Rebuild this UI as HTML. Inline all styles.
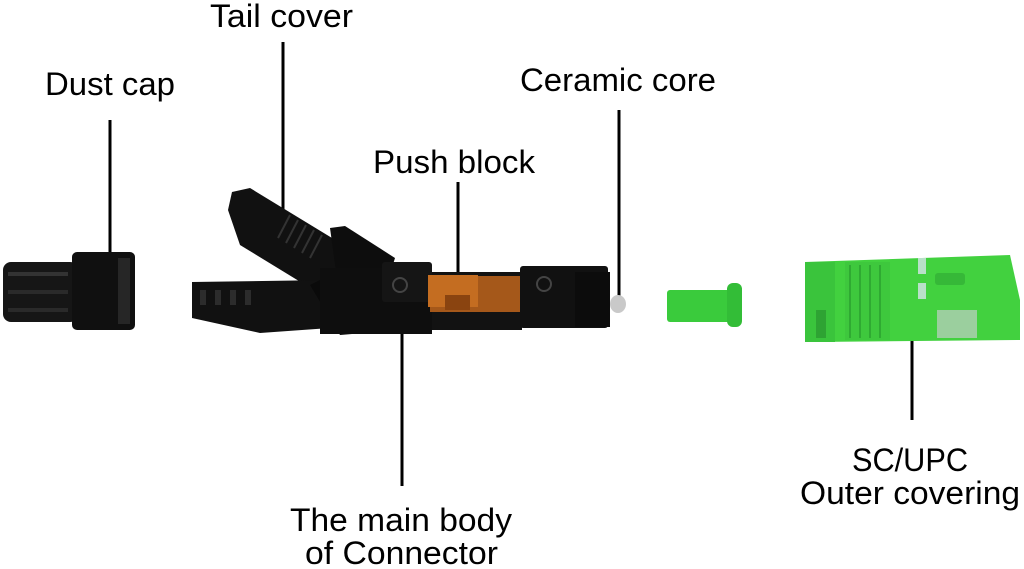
<!DOCTYPE html>
<html><head><meta charset="utf-8"><style>
html,body{margin:0;padding:0;background:#fff;}
svg{display:block;}
text{font-family:"Liberation Sans",sans-serif;font-size:32px;fill:#000;}
</style></head><body>
<svg width="1024" height="569" viewBox="0 0 1024 569" xmlns="http://www.w3.org/2000/svg">
<g stroke="#000" stroke-width="3">
<line x1="110" y1="120" x2="110" y2="262"/>
<line x1="283" y1="42" x2="283" y2="210"/>
<line x1="458" y1="182" x2="458" y2="280"/>
<line x1="619" y1="110" x2="619" y2="300"/>
<line x1="402" y1="330" x2="402" y2="486"/>
<line x1="912" y1="340" x2="912" y2="420"/>
</g>
<rect x="3" y="262" width="75" height="60" rx="8" fill="#161616"/>
<rect x="72" y="252" width="63" height="78" rx="5" fill="#101010"/>
<rect x="8" y="272" width="60" height="4" fill="#333"/>
<rect x="8" y="290" width="60" height="4" fill="#2a2a2a"/>
<rect x="8" y="308" width="60" height="4" fill="#2a2a2a"/>
<rect x="118" y="258" width="12" height="66" fill="#262626"/>
<polygon points="232,192 250,188 355,252 330,300 240,245 228,210" fill="#111"/>
<g stroke="#333" stroke-width="2">
<line x1="290" y1="215" x2="278" y2="238"/><line x1="298" y1="220" x2="286" y2="243"/>
<line x1="306" y1="225" x2="294" y2="248"/><line x1="314" y1="230" x2="302" y2="253"/>
<line x1="322" y1="235" x2="310" y2="258"/>
</g>
<polygon points="330,228 345,226 395,258 385,290 340,300" fill="#0d0d0d"/>
<polygon points="192,282 330,280 330,328 260,333 192,318" fill="#111"/>
<g fill="#2c2c2c"><rect x="200" y="290" width="6" height="15"/><rect x="215" y="290" width="6" height="15"/><rect x="230" y="290" width="6" height="15"/><rect x="245" y="290" width="6" height="15"/></g>
<polygon points="310,285 340,270 400,330 340,335" fill="#0a0a0a"/>
<rect x="320" y="268" width="112" height="66" fill="#0e0e0e"/>
<rect x="382" y="262" width="50" height="40" rx="3" fill="#151515"/>
<rect x="432" y="272" width="90" height="58" fill="#121212"/>
<rect x="430" y="276" width="95" height="36" fill="#a5581a"/>
<rect x="428" y="275" width="50" height="32" fill="#c46d21"/>
<rect x="445" y="295" width="25" height="15" fill="#8a4410"/>
<rect x="520" y="266" width="88" height="62" rx="3" fill="#111"/>
<rect x="575" y="272" width="35" height="55" fill="#0c0c0c"/>
<circle cx="400" cy="285" r="7" fill="none" stroke="#444" stroke-width="2"/>
<circle cx="544" cy="284" r="7" fill="none" stroke="#444" stroke-width="2"/>
<ellipse cx="618" cy="304" rx="8" ry="9" fill="#c9c9c9"/>
<rect x="667" y="290" width="65" height="32" rx="3" fill="#3acb3c"/>
<rect x="727" y="283" width="15" height="44" rx="6" fill="#33bd37"/>
<polygon points="805,262 1010,255 1020,300 1020,340 813,342 805,330" fill="#42d13f"/>
<rect x="805" y="262" width="30" height="80" fill="#3ac43c"/>
<rect x="845" y="262" width="45" height="78" fill="#3ec83d"/>
<g stroke="#2aa02e" stroke-width="1.5">
<line x1="850" y1="265" x2="850" y2="338"/><line x1="860" y1="265" x2="860" y2="338"/><line x1="870" y1="265" x2="870" y2="338"/><line x1="880" y1="265" x2="880" y2="338"/>
</g>
<rect x="918" y="258" width="8" height="16" fill="#b8e0c8"/>
<rect x="918" y="283" width="8" height="16" fill="#b8e0c8"/>
<rect x="935" y="273" width="30" height="12" rx="3" fill="#36b838"/>
<rect x="937" y="310" width="40" height="28" fill="#9bcf9e"/>
<rect x="816" y="310" width="10" height="28" fill="#2ea333"/>
<text x="210" y="27" textLength="143" lengthAdjust="spacingAndGlyphs">Tail cover</text>
<text x="45" y="95" textLength="130" lengthAdjust="spacingAndGlyphs">Dust cap</text>
<text x="520" y="91" textLength="196" lengthAdjust="spacingAndGlyphs">Ceramic core</text>
<text x="373" y="173" textLength="162" lengthAdjust="spacingAndGlyphs">Push block</text>
<text x="290" y="531" textLength="222" lengthAdjust="spacingAndGlyphs">The main body</text>
<text x="305" y="564" textLength="193" lengthAdjust="spacingAndGlyphs">of Connector</text>
<text x="852" y="471" textLength="116" lengthAdjust="spacingAndGlyphs">SC/UPC</text>
<text x="800" y="504" textLength="220" lengthAdjust="spacingAndGlyphs">Outer covering</text>
</svg>
</body></html>
